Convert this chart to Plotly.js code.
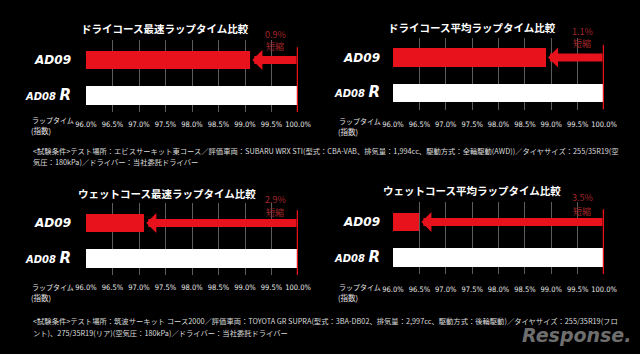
<!DOCTYPE html>
<html>
<head>
<meta charset="utf-8">
<script src="https://cdn.plot.ly/plotly-3.0.1.min.js"></script>
<style>
html,body{margin:0;padding:0;background:#000;}
#chart{width:640px;height:354px;}
</style>
</head>
<body>
<div id="chart"></div>
<script>
// ---- data ----
const chartTitles = [
  'ドライコース最速ラップタイム比較',
  'ドライコース平均ラップタイム比較',
  'ウェットコース最速ラップタイム比較',
  'ウェットコース平均ラップタイム比較'
];
const categories = ['AD08 R', 'AD09'];
const ad08rValues = [100.0, 100.0, 100.0, 100.0];
const ad09Values = [99.1, 98.9, 97.1, 96.5];
const tickValues = [96.0, 96.5, 97.0, 97.5, 98.0, 98.5, 99.0, 99.5, 100.0];
const tickLabels = ['96.0%', '96.5%', '97.0%', '97.5%', '98.0%', '98.5%', '99.0%', '99.5%', '100.0%'];
const shortLabel = '短縮';
const axisLabel1 = 'ラップタイム';
const axisLabel2 = '(指数)';
const footnote1 = [
  '<試験条件>テスト場所：エビスサーキット東コース／評価車両：SUBARU WRX STI(型式：CBA-VAB、排気量：1,994cc、駆動方式：全輪駆動(AWD))／タイヤサイズ：255/35R19(空',
  '気圧：180kPa)／ドライバー：当社委託ドライバー'
];
const footnote2 = [
  '<試験条件>テスト場所：筑波サーキット コース2000／評価車両：TOYOTA GR SUPRA(型式：3BA-DB02、排気量：2,997cc、駆動方式：後輪駆動)／タイヤサイズ：255/35R19(フロ',
  'ント)、275/35R19(リア)(空気圧：180kPa)／ドライバー：当社委託ドライバー'
];
const logoText = 'Response.';

// ---- layout helpers ----
const W = 640, H = 354;
const px = x => x / W;
const py = y => 1 - y / H;
const RED = '#e8121c';
const DARKRED = '#a3262a';
const CJK = '"Noto Sans CJK JP", "Noto Sans", sans-serif';
const NARROW = '"Liberation Sans Narrow", "DejaVu Sans Condensed", sans-serif';

// pixel geometry per panel
const geo = [
  {x0: 86, x1: 298, top: 40, titleX: 165, titleY: 29, pctX: 275, pctY: 34, lblY: 120, stand: 6, ystand: 14, lblX: 30},
  {x0: 393, x1: 604, top: 37.5, titleX: 472, titleY: 27, pctX: 582, pctY: 31, lblY: 121, stand: 9, ystand: 12, lblX: 337},
  {x0: 86, x1: 298, top: 203, titleX: 167, titleY: 193, pctX: 275, pctY: 199, lblY: 287, stand: 6, ystand: 14, lblX: 30},
  {x0: 393, x1: 604, top: 202, titleX: 472, titleY: 190, pctX: 582, pctY: 198, lblY: 287, stand: 9, ystand: 12, lblX: 337}
];
const PLOT_H = 72;
const YR = [-0.46, 1.56];

const traces = [];
const layout = {
  width: W, height: H,
  margin: {l: 0, r: 0, t: 0, b: 0},
  paper_bgcolor: '#000', plot_bgcolor: '#000',
  showlegend: false,
  bargap: 0,
  annotations: [], shapes: []
};

const ticktext = [
  '<b><i><span style="font-size:10px">AD08 </span><span style="font-size:15px">R</span></i></b>',
  '<b><i>AD09</i></b>'
];

geo.forEach((g, i) => {
  const n = i === 0 ? '' : String(i + 1);
  const xa = 'x' + n, ya = 'y' + n;
  traces.push({
    type: 'bar', orientation: 'h',
    x: [ad08rValues[i], ad09Values[i]],
    y: categories,
    xaxis: xa, yaxis: ya,
    width: 0.52,
    marker: {color: ['#ffffff', RED], line: {width: 0}},
    hoverinfo: 'skip'
  });
  layout['xaxis' + n] = {
    domain: [px(g.x0), px(g.x1)],
    anchor: ya,
    range: [96, 100],
    tickvals: tickValues, ticktext: tickLabels,
    tickangle: 0,
    showgrid: true, gridcolor: '#5c5c5c', gridwidth: 1,
    zeroline: false, showline: false, ticks: '',
    ticklabelstandoff: g.stand,
    tickfont: {family: NARROW, size: 7.5, color: '#e6e6e6'},
    fixedrange: true
  };
  layout['yaxis' + n] = {
    domain: [py(g.top + PLOT_H), py(g.top)],
    anchor: xa,
    type: 'category',
    categoryorder: 'array', categoryarray: categories,
    range: YR,
    tickvals: categories, ticktext: ticktext,
    showgrid: false, zeroline: false, showline: false, ticks: '',
    ticklabelstandoff: g.ystand,
    tickfont: {family: '"DejaVu Sans", sans-serif', size: 12, color: '#ffffff'},
    fixedrange: true
  };
  // title
  layout.annotations.push({
    xref: 'paper', yref: 'paper', x: px(g.titleX), y: py(g.titleY),
    xanchor: 'center', yanchor: 'middle', showarrow: false,
    text: '<b>' + chartTitles[i] + '</b>',
    font: {family: CJK, size: 10.5, color: '#ffffff'}
  });
  // percent reduction label (two lines)
  layout.annotations.push({
    xref: 'paper', yref: 'paper', x: px(g.pctX), y: py(g.pctY),
    xanchor: 'center', yanchor: 'middle', showarrow: false,
    text: (ad08rValues[i] - ad09Values[i]).toFixed(1) + '%',
    font: {family: CJK, size: 9, color: DARKRED}
  });
  layout.annotations.push({
    xref: 'paper', yref: 'paper', x: px(g.pctX), y: py(g.pctY + 13),
    xanchor: 'center', yanchor: 'middle', showarrow: false,
    text: shortLabel,
    font: {family: CJK, size: 9, color: DARKRED}
  });
  // arrow
  layout.annotations.push({
    xref: xa, yref: ya, axref: xa, ayref: ya,
    x: ad09Values[i], y: 1, ax: ad08rValues[i], ay: 1,
    showarrow: true, arrowhead: 1, arrowsize: 0.42, arrowwidth: 8,
    arrowcolor: RED, standoff: 2, text: ''
  });
  // red line at 100%
  layout.shapes.push({
    type: 'line', xref: xa, yref: ya,
    x0: ad08rValues[i], x1: ad08rValues[i], y0: -0.46, y1: 1.36,
    line: {color: RED, width: 2.5}
  });
  // axis label
  layout.annotations.push({
    xref: 'paper', yref: 'paper', x: px(g.lblX), y: py(g.lblY),
    xanchor: 'left', yanchor: 'middle', showarrow: false,
    text: axisLabel1,
    font: {family: CJK, size: 7, color: '#e6e6e6'}
  });
  layout.annotations.push({
    xref: 'paper', yref: 'paper', x: px(g.lblX - 1), y: py(g.lblY + 10),
    xanchor: 'left', yanchor: 'middle', showarrow: false,
    text: axisLabel2,
    font: {family: CJK, size: 7.5, color: '#e6e6e6'}
  });
});

// footnotes
const fnLines = [[footnote1[0], 151], [footnote1[1], 162], [footnote2[0], 321], [footnote2[1], 333]];
fnLines.forEach(([t, y]) => {
  layout.annotations.push({
    xref: 'paper', yref: 'paper', x: px(31), y: py(y),
    xanchor: 'left', yanchor: 'middle', showarrow: false, align: 'left',
    text: t,
    font: {family: CJK, size: 7.3, color: '#dcdcdc'}
  });
});

// logo
layout.annotations.push({
  xref: 'paper', yref: 'paper', x: px(576), y: py(335),
  xanchor: 'center', yanchor: 'middle', showarrow: false,
  text: '<b><i>' + logoText + '</i></b>',
  font: {family: '"DejaVu Sans", sans-serif', size: 19, color: '#6e6e6e'}
});

Plotly.newPlot('chart', traces, layout, {staticPlot: true, displayModeBar: false});
</script>
</body>
</html>
